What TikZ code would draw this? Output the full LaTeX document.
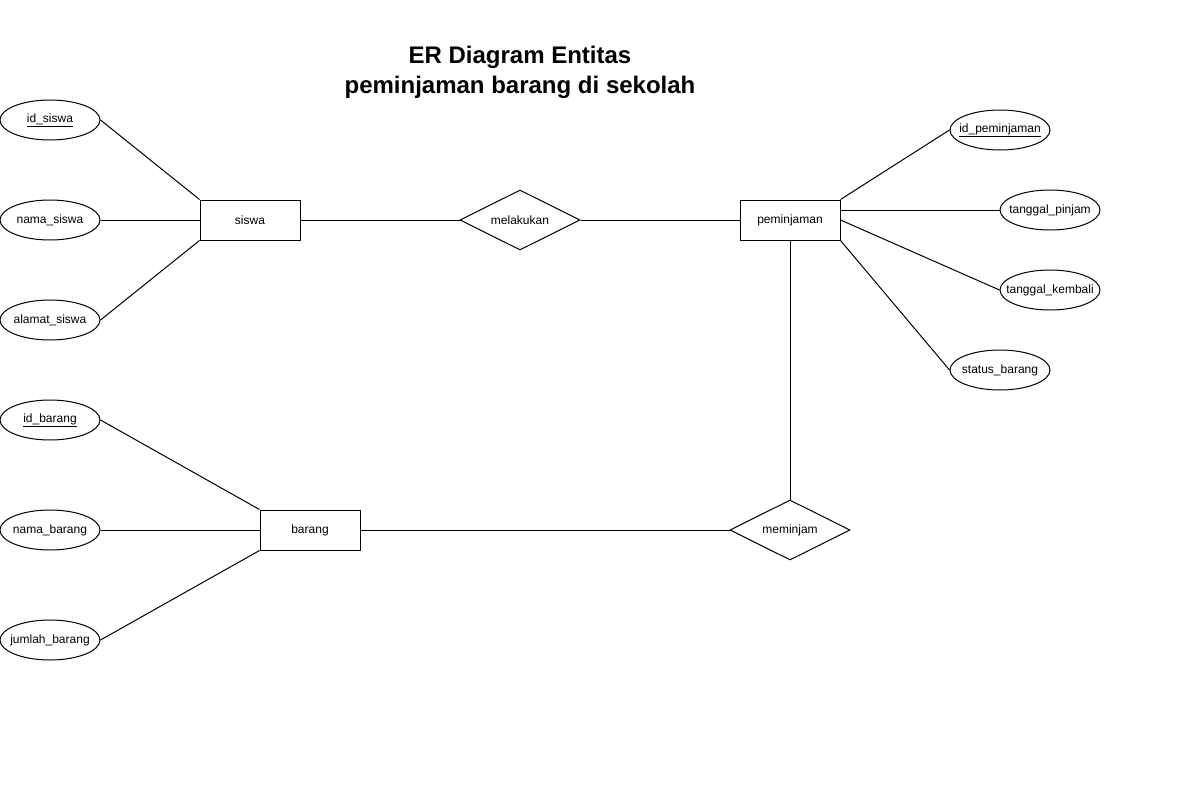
\documentclass[tikz,border=0pt]{standalone}
\usepackage{fontspec}
\setmainfont{Liberation Sans}
\usetikzlibrary{shapes.geometric}

\begin{document}
\begin{tikzpicture}[x=1pt,y=-1pt,line width=1pt,
  font=\fontsize{12}{14}\selectfont,
  attr/.style={ellipse,draw,inner xsep=-12pt,inner ysep=0pt,minimum width=100pt,minimum height=40pt},
  ent/.style={rectangle,draw,inner sep=0pt,minimum width=100pt,minimum height=40pt},
  rel/.style={diamond,draw,aspect=2,inner sep=0pt,minimum width=120pt,minimum height=60pt}]

\useasboundingbox (0,0) rectangle (1200,800);

\node[font=\fontsize{24}{30}\selectfont\bfseries,align=center] (judul) at (520,72) {ER Diagram Entitas\\peminjaman barang di sekolah};

\node[ent] (siswa) at (250,220) {siswa};
\node[attr] (idsiswa) at (50,120) {\underline{id\_siswa}};
\node[attr] (namasiswa) at (50,220) {nama\_siswa};
\node[attr] (alamat) at (50,320) {alamat\_siswa};

\draw (idsiswa.east) -- (siswa.north west);
\draw (namasiswa.east) -- (siswa.west);
\draw (alamat.east) -- (siswa.south west);

\node[rel] (melakukan) at (520,220) {melakukan};

\node[ent] (pinjam) at (790,220) {peminjaman};
\node[attr] (idpinjam) at (1000,130) {\underline{id\_peminjaman}};
\node[attr] (tglpinjam) at (1050,210) {tanggal\_pinjam};
\node[attr] (tglkembali) at (1050,290) {tanggal\_kembali};
\node[attr] (status) at (1000,370) {status\_barang};

\draw (siswa.east) -- (melakukan.west);
\draw (melakukan.east) -- (pinjam.west);

\draw (pinjam.north east) -- (idpinjam.west);
\draw (pinjam.east |- tglpinjam.west) -- (tglpinjam.west);
\draw (pinjam.east) -- (tglkembali.west);
\draw (pinjam.south east) -- (status.west);

\node[ent] (barang) at (310,530) {barang};
\node[attr] (idbarang) at (50,420) {\underline{id\_barang}};
\node[attr] (namabarang) at (50,530) {nama\_barang};
\node[attr] (jumlah) at (50,640) {jumlah\_barang};

\draw (idbarang.east) -- (barang.north west);
\draw (namabarang.east) -- (barang.west);
\draw (jumlah.east) -- (barang.south west);

\node[rel] (meminjam) at (790,530) {meminjam};

\draw (barang.east) -- (meminjam.west);
\draw (pinjam.south) -- (meminjam.north);

\end{tikzpicture}
\end{document}
